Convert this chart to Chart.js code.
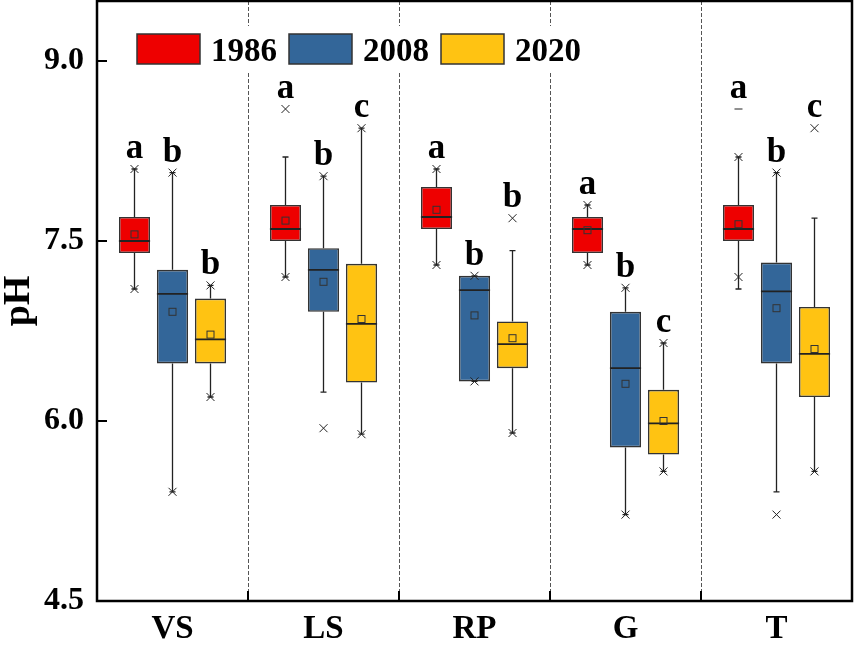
<!DOCTYPE html>
<html>
<head>
<meta charset="utf-8">
<script src="https://cdn.jsdelivr.net/npm/chart.js@4.4.1/dist/chart.umd.min.js"></script>
<style>
  html, body { margin: 0; padding: 0; background: #fff; }
  #wrap { width: 855px; height: 653px; }
</style>
</head>
<body>
<div id="wrap"><canvas id="ph-chart" width="855" height="653"></canvas></div>
<script>
// categories and series
const sites = ['VS', 'LS', 'RP', 'G', 'T'];
const years = ['1986', '2008', '2020'];
const colors = ['#EE0000', '#336699', '#FFC312'];
const yTicks = [4.5, 6.0, 7.5, 9.0];

// box statistics, one row per year, one value per site
const q1 = [[7.40, 7.50, 7.60, 7.40, 7.50], [6.48, 6.91, 6.33, 5.78, 6.48], [6.48, 6.32, 6.44, 5.72, 6.20]];
const q3 = [[7.70, 7.80, 7.95, 7.70, 7.80], [7.26, 7.44, 7.21, 6.91, 7.32], [7.02, 7.31, 6.83, 6.26, 6.95]];
const medians = [[7.50, 7.60, 7.70, 7.60, 7.60], [7.06, 7.26, 7.09, 6.44, 7.08], [6.68, 6.81, 6.64, 5.98, 6.56]];
const means = [[7.555, 7.67, 7.76, 7.59, 7.64], [6.91, 7.16, 6.88, 6.31, 6.94], [6.72, 6.85, 6.69, 6.00, 6.60]];
const whiskerLow = [[7.10, 7.20, 7.30, 7.30, 7.10], [5.41, 6.24, 6.33, 5.22, 5.41], [6.20, 5.89, 5.90, 5.58, 5.58]];
const whiskerHigh = [[8.10, 8.20, 8.10, 7.80, 8.20], [8.07, 8.04, 7.21, 7.11, 8.07], [7.13, 8.44, 7.42, 6.65, 7.69]];
const minMark = [[7.10, 7.20, 7.30, 7.30, 7.20], [5.41, 5.94, 6.33, 5.22, 5.22], [6.20, 5.89, 5.90, 5.58, 5.58]];
const maxMark = [[8.10, 8.60, 8.10, 7.80, 8.20], [8.07, 8.04, 7.21, 7.11, 8.07], [7.13, 8.44, 7.69, 6.65, 8.44]];
const dashMark = [[null, null, null, null, 8.60], [null, null, null, null, null], [null, null, null, null, null]];
const letters = [['a', 'a', 'a', 'a', 'a'], ['b', 'b', 'b', 'b', 'b'], ['b', 'c', 'b', 'c', 'c']];

const serif = "'Liberation Serif', 'Times New Roman', serif";

// whiskers, medians, means, markers, letters
const boxExtras = {
  id: 'boxExtras',
  beforeDatasetsDraw(chart) {
    const ctx = chart.ctx, area = chart.chartArea, xs = chart.scales.x;
    ctx.save();
    ctx.strokeStyle = '#555';
    ctx.lineWidth = 1;
    ctx.setLineDash([4, 2]);
    for (let j = 0; j < sites.length - 1; j++) {
      const x = Math.round((xs.getPixelForValue(j) + xs.getPixelForValue(j + 1)) / 2) + 0.5;
      ctx.beginPath();
      ctx.moveTo(x, area.top);
      ctx.lineTo(x, area.bottom);
      ctx.stroke();
    }
    ctx.restore();
  },
  afterDatasetsDraw(chart) {
    const ctx = chart.ctx, ys = chart.scales.y;
    const py = v => ys.getPixelForValue(v);
    ctx.save();
    years.forEach((yr, i) => {
      const meta = chart.getDatasetMeta(i);
      meta.data.forEach((bar, j) => {
        const x = bar.x, w = bar.width;
        ctx.strokeStyle = '#222';
        ctx.lineWidth = 1.3;
        // whiskers + caps
        ctx.beginPath();
        ctx.moveTo(x, py(q3[i][j])); ctx.lineTo(x, py(whiskerHigh[i][j]));
        ctx.moveTo(x, py(q1[i][j])); ctx.lineTo(x, py(whiskerLow[i][j]));
        ctx.moveTo(x - 3, py(whiskerHigh[i][j])); ctx.lineTo(x + 3, py(whiskerHigh[i][j]));
        ctx.moveTo(x - 3, py(whiskerLow[i][j])); ctx.lineTo(x + 3, py(whiskerLow[i][j]));
        ctx.stroke();
        // median
        ctx.lineWidth = 1.8;
        ctx.beginPath();
        ctx.moveTo(x - w / 2, py(medians[i][j]));
        ctx.lineTo(x + w / 2, py(medians[i][j]));
        ctx.stroke();
        // mean square
        ctx.lineWidth = 1;
        ctx.strokeStyle = '#333';
        ctx.strokeRect(x - 3.5, py(means[i][j]) - 3.5, 7, 7);
        // x marks
        ctx.strokeStyle = '#222';
        ctx.lineWidth = 1;
        [minMark[i][j], maxMark[i][j]].forEach(v => {
          const y = py(v);
          ctx.beginPath();
          ctx.moveTo(x - 4, y - 4); ctx.lineTo(x + 4, y + 4);
          ctx.moveTo(x + 4, y - 4); ctx.lineTo(x - 4, y + 4);
          ctx.stroke();
        });
        if (dashMark[i][j] !== null) {
          const y = py(dashMark[i][j]);
          ctx.beginPath();
          ctx.moveTo(x - 4, y); ctx.lineTo(x + 4, y);
          ctx.stroke();
        }
        // significance letter
        const top = Math.max(maxMark[i][j], whiskerHigh[i][j], dashMark[i][j] || 0);
        ctx.fillStyle = '#000';
        ctx.font = 'bold 35px ' + serif;
        ctx.textAlign = 'center';
        ctx.textBaseline = 'alphabetic';
        ctx.fillText(letters[i][j], x, py(top) - 11);
      });
    });
    ctx.restore();
  },
  afterDraw(chart) {
    const ctx = chart.ctx, area = chart.chartArea, xs = chart.scales.x, ys = chart.scales.y;
    ctx.save();
    ctx.strokeStyle = '#000';
    // inward ticks
    ctx.lineWidth = 2;
    ctx.beginPath();
    yTicks.forEach(v => {
      const y = Math.round(ys.getPixelForValue(v));
      ctx.moveTo(area.left, y); ctx.lineTo(area.left + 10, y);
    });
    for (let j = 0; j < sites.length - 1; j++) {
      const x = Math.round((xs.getPixelForValue(j) + xs.getPixelForValue(j + 1)) / 2);
      ctx.moveTo(x, area.bottom); ctx.lineTo(x, area.bottom - 10);
    }
    ctx.stroke();
    // frame
    ctx.lineWidth = 2.5;
    ctx.strokeRect(area.left, area.top, area.right - area.left, area.bottom - area.top);

    // legend inside the plot
    ctx.font = 'bold 33px ' + serif;
    ctx.textAlign = 'left';
    ctx.textBaseline = 'alphabetic';
    let lx = area.left + 40;
    const ly = area.top + 33;
    const widths = years.map(t => ctx.measureText(t).width);
    const total = years.length * (63 + 11) + widths.reduce((a, b) => a + b, 0) + (years.length - 1) * 12;
    ctx.fillStyle = '#fff';
    ctx.fillRect(lx - 8, ly - 8, total + 16, 46);
    years.forEach((t, i) => {
      ctx.fillStyle = colors[i];
      ctx.fillRect(lx, ly, 63, 30);
      ctx.strokeStyle = '#333';
      ctx.lineWidth = 1.5;
      ctx.strokeRect(lx, ly, 63, 30);
      ctx.fillStyle = '#000';
      ctx.fillText(t, lx + 63 + 11, ly + 27);
      lx += 63 + 11 + widths[i] + 12;
    });
    ctx.restore();
  }
};

new Chart(document.getElementById('ph-chart'), {
  type: 'bar',
  data: {
    labels: sites,
    datasets: years.map((yr, i) => ({
      label: yr,
      data: q1[i].map((v, j) => [v, q3[i][j]]),
      backgroundColor: colors[i],
      borderColor: '#333',
      borderWidth: 1.6,
      borderSkipped: false,
      categoryPercentage: 0.755,
      barPercentage: 0.82
    }))
  },
  options: {
    responsive: false,
    animation: false,
    layout: { padding: { top: 1, right: 3, left: 0, bottom: 0 } },
    plugins: { legend: { display: false }, tooltip: { enabled: false } },
    scales: {
      x: {
        grid: { display: false, drawTicks: false },
        border: { display: false },
        ticks: { color: '#000', padding: 9, font: { family: serif, size: 33, weight: 'bold' } },
        afterFit(s) { s.height = 52; s.paddingLeft = 0; s.paddingRight = 0; }
      },
      y: {
        min: 4.5,
        max: 9.5,
        grid: { display: false, drawTicks: false },
        border: { display: false },
        afterBuildTicks(s) { s.ticks = yTicks.map(v => ({ value: v })); },
        ticks: {
          color: '#000',
          padding: 13,
          font: { family: serif, size: 32, weight: 'bold' },
          callback: v => Number(v).toFixed(1)
        },
        title: {
          display: true,
          text: 'pH',
          color: '#000',
          padding: 0,
          font: { family: serif, size: 38, weight: 'bold', lineHeight: 1 }
        },
        afterFit(s) { s.width = 97; s.paddingTop = 0; s.paddingBottom = 0; }
      }
    }
  },
  plugins: [boxExtras]
});
</script>
</body>
</html>
